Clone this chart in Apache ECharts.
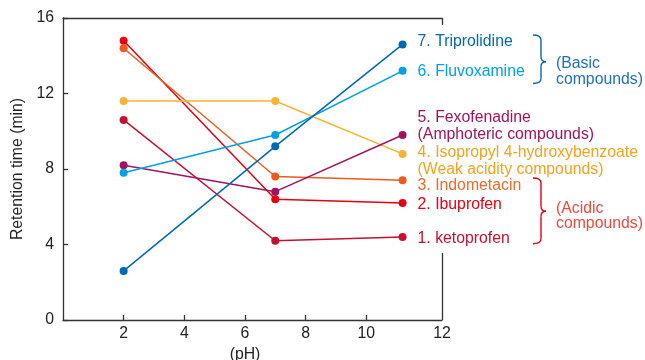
<!DOCTYPE html>
<html>
<head>
<meta charset="utf-8">
<script src="https://cdn.jsdelivr.net/npm/echarts@6/dist/echarts.min.js"></script>
<style>
  html, body { margin: 0; padding: 0; background: #ffffff; }
  #chart { width: 645px; height: 360px; }
</style>
</head>
<body>
<div id="chart"></div>
<script>
// Retention time of seven compounds at three mobile-phase pH values
const phValues = [2, 7, 11.2];

const compoundNames = [
  '1. ketoprofen',
  '2. Ibuprofen',
  '3. Indometacin',
  '4. Isopropyl 4-hydroxybenzoate',
  '5. Fexofenadine',
  '6. Fluvoxamine',
  '7. Triprolidine'
];
const compoundClasses = ['', '', '', '(Weak acidity compounds)', '(Amphoteric compounds)', '', ''];

const ketoprofen   = [10.6, 4.2, 4.4];
const ibuprofen    = [14.8, 6.4, 6.2];
const indometacin  = [14.4, 7.6, 7.4];
const isopropyl    = [11.6, 11.6, 8.8];
const fexofenadine = [8.2, 6.8, 9.8];
const fluvoxamine  = [7.8, 9.8, 13.2];
const triprolidine = [2.6, 9.2, 14.6];

const retention = [ketoprofen, ibuprofen, indometacin, isopropyl, fexofenadine, fluvoxamine, triprolidine];

const xTickValues = [2, 4, 6, 8, 10];
const xEndLabel = '12';
const groupLabels = ['(Basic\ncompounds)', '(Acidic\ncompounds)'];

// styling
const FONT = '"Liberation Sans", Arial, Helvetica, sans-serif';
const FS = 15.8;
const AXIS_COLOR = '#333333';
const X_MAX = 12.5;
const lineColors  = ['#c8102e', '#e60012', '#ed5b1f', '#f8b332', '#a2135f', '#00a0e9', '#0068b7'];
const labelColors = ['#c8102e', '#e60012', '#ef6a2a', '#f5a21e', '#a2135f', '#00a0e9', '#0068b7'];
const labelShiftY = [2, 1.3, 5.4, 7.1, -9.3, 0.8, -2.7];
const rightFrameGaps = [[0, 3.55], [15.63, 16]];

const chart = echarts.init(document.getElementById('chart'), null, { renderer: 'canvas' });

const series = retention.map((vals, i) => ({
  type: 'line',
  name: compoundNames[i],
  data: vals.map((v, j) => {
    const item = { value: [phValues[j], v] };
    if (j === vals.length - 1) {
      item.label = {
        show: true,
        position: 'right',
        distance: 11,
        offset: [0, labelShiftY[i]],
        color: labelColors[i],
        fontFamily: FONT,
        fontSize: FS,
        lineHeight: 17,
        align: 'left',
        verticalAlign: 'middle',
        formatter: compoundClasses[i] ? compoundNames[i] + '\n' + compoundClasses[i] : compoundNames[i]
      };
    }
    return item;
  }),
  symbol: 'circle',
  symbolSize: 8,
  showSymbol: true,
  color: lineColors[i],
  lineStyle: { width: 1.5, color: lineColors[i] },
  itemStyle: { color: lineColors[i] },
  emphasis: { disabled: true },
  animation: false,
  z: 3
}));

// right-hand frame segments above and below the label block
series.push({
  type: 'line',
  data: [],
  silent: true,
  animation: false,
  markLine: {
    silent: true,
    symbol: 'none',
    label: { show: false },
    lineStyle: { color: AXIS_COLOR, width: 1.3, type: 'solid' },
    emphasis: { disabled: true },
    data: rightFrameGaps.map(seg => [
      { coord: [X_MAX, seg[0]] },
      { coord: [X_MAX, seg[1]] }
    ])
  }
});

function brace(x0, xs, xt, y1, ym, y2, color) {
  const r = 5;
  const st = { stroke: color, lineWidth: 1.4, fill: null };
  return [
    { type: 'bezierCurve', shape: { x1: x0, y1: y1, cpx1: xs, cpy1: y1, x2: xs, y2: y1 + r }, style: st },
    { type: 'line', shape: { x1: xs, y1: y1 + r, x2: xs, y2: ym - r }, style: st },
    { type: 'bezierCurve', shape: { x1: xs, y1: ym - r, cpx1: xs, cpy1: ym, x2: xt, y2: ym }, style: st },
    { type: 'bezierCurve', shape: { x1: xt, y1: ym, cpx1: xs, cpy1: ym, x2: xs, y2: ym + r }, style: st },
    { type: 'line', shape: { x1: xs, y1: ym + r, x2: xs, y2: y2 - r }, style: st },
    { type: 'bezierCurve', shape: { x1: xs, y1: y2 - r, cpx1: xs, cpy1: y2, x2: x0, y2: y2 }, style: st }
  ];
}

const option = {
  backgroundColor: '#ffffff',
  animation: false,
  grid: { left: 63, right: 203, top: 18, bottom: 40, containLabel: false, outerBoundsMode: 'none' },
  xAxis: [
    {
      type: 'value',
      min: 0,
      max: X_MAX,
      position: 'bottom',
      name: '(pH)',
      nameLocation: 'middle',
      nameGap: 22,
      nameTextStyle: { fontFamily: FONT, fontSize: FS, color: '#222222', padding: [0, 15, 0, 0] },
      axisLine: { show: true, lineStyle: { color: AXIS_COLOR, width: 1.3 } },
      axisTick: { show: true, inside: true, length: 5, customValues: xTickValues, lineStyle: { color: AXIS_COLOR, width: 1.3 } },
      axisLabel: {
        show: true,
        customValues: xTickValues.concat([X_MAX]),
        formatter: v => (v === X_MAX ? xEndLabel : String(v)),
        fontFamily: FONT,
        fontSize: FS,
        color: '#222222',
        margin: 6
      },
      splitLine: { show: false }
    },
    {
      type: 'value',
      min: 0,
      max: X_MAX,
      position: 'top',
      axisLine: { show: true, onZero: false, lineStyle: { color: AXIS_COLOR, width: 1.3 } },
      axisTick: { show: false },
      axisLabel: { show: false },
      splitLine: { show: false }
    }
  ],
  yAxis: {
    type: 'value',
    min: 0,
    max: 16,
    interval: 4,
    name: 'Retention time (min)',
    nameLocation: 'middle',
    nameGap: 31,
    nameRotate: 90,
    nameTextStyle: { fontFamily: FONT, fontSize: FS, color: '#222222' },
    axisLine: { show: true, lineStyle: { color: AXIS_COLOR, width: 1.3 } },
    axisTick: { show: true, inside: true, length: 5, lineStyle: { color: AXIS_COLOR, width: 1.3 } },
    axisLabel: { fontFamily: FONT, fontSize: FS, color: '#222222', margin: 9 },
    splitLine: { show: false }
  },
  graphic: [
    ...brace(533, 541, 546, 35, 61.7, 83.5, '#0068b7'),
    ...brace(533, 541, 546, 178, 211.3, 243.7, '#e60012'),
    {
      type: 'text',
      x: 556,
      y: 71.3,
      style: {
        text: groupLabels[0],
        fill: '#1d6fbd',
        font: FS + 'px ' + FONT,
        lineHeight: 16,
        verticalAlign: 'middle',
        align: 'left'
      }
    },
    {
      type: 'text',
      x: 556,
      y: 216.2,
      style: {
        text: groupLabels[1],
        fill: '#ec4a3c',
        font: FS + 'px ' + FONT,
        lineHeight: 15.5,
        verticalAlign: 'middle',
        align: 'left'
      }
    }
  ],
  series: series
};

chart.setOption(option);
</script>
</body>
</html>
